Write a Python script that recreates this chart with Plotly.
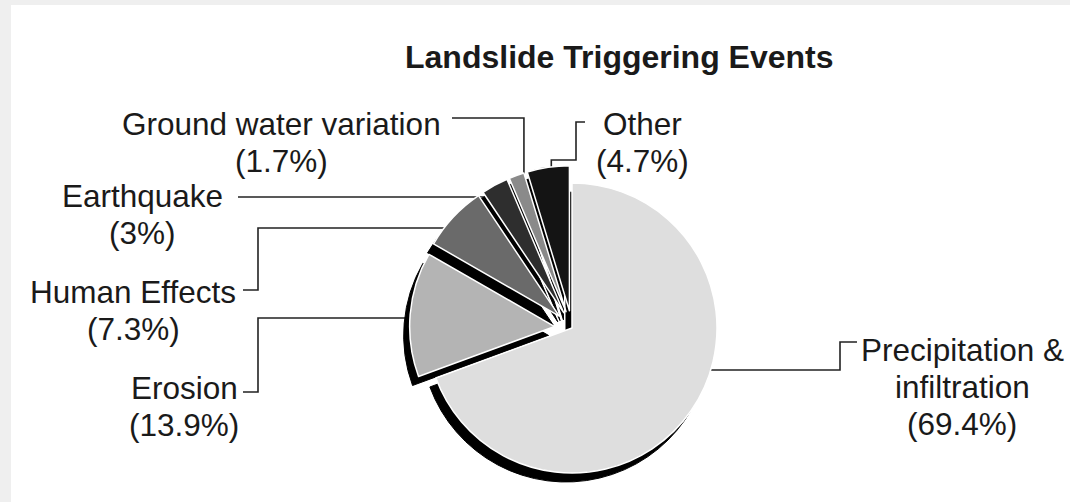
import numpy as np
import plotly.graph_objects as go

# ---------------- data ----------------
categories = ["Precipitation & infiltration", "Erosion", "Human Effects",
              "Earthquake", "Ground water variation", "Other"]
values = [69.4, 13.9, 7.3, 3.0, 1.7, 4.7]
label_lines = [["Precipitation &", "infiltration"], ["Erosion"], ["Human Effects"],
               ["Earthquake"], ["Ground water variation"], ["Other"]]
title_text = "Landslide Triggering Events"

# ---------------- style / layout ----------------
W, H = 1070, 502
colors = ["#dedede", "#b4b4b4", "#6a6a6a", "#2e2e2e", "#8a8a8a", "#141414"]
pulls = [0.0, 0.12, 0.12, 0.12, 0.12, 0.12]
CX, CY, R = 572, 328, 145          # pie centre / radius in pixels
MAXP = max(pulls)
D = R * (1 + MAXP)
SH_DX, SH_DY = -6, 9               # shadow offset
FONT = "Liberation Sans, Arial, sans-serif"
TXT = "#1a1a1a"
LABEL_SIZE = 31.5


def px(x):
    return x / W


def py(y):
    return 1 - y / H


def dom(cx, cy):
    clamp = lambda v: min(1.0, max(0.0, v))
    return dict(x=[clamp(px(cx - D)), clamp(px(cx + D))],
                y=[clamp(py(cy + D)), clamp(py(cy - D))])


fig = go.Figure()
# shadow pie
fig.add_trace(go.Pie(labels=categories, values=values, sort=False, direction="clockwise",
                     rotation=0, pull=pulls, textinfo="none", hoverinfo="skip",
                     marker=dict(colors=["#000000"] * len(values), line=dict(color="#000000", width=1)),
                     domain=dom(CX + SH_DX, CY + SH_DY), showlegend=False))
# front pie
fig.add_trace(go.Pie(labels=categories, values=values, sort=False, direction="clockwise",
                     rotation=0, pull=pulls, textinfo="none",
                     marker=dict(colors=colors, line=dict(color="#ffffff", width=1.5)),
                     domain=dom(CX, CY), showlegend=False))

# slice geometry (derived from values) for leader-line targets
vals = np.array(values, dtype=float)
frac = vals / vals.sum()
start = np.concatenate([[0], np.cumsum(frac)[:-1]]) * 360
mid = start + frac * 180


def slice_point(i, rr):
    a = np.deg2rad(mid[i])
    ox = CX + pulls[i] * R * np.sin(a)
    oy = CY - pulls[i] * R * np.cos(a)
    return ox + rr * R * np.sin(a), oy - rr * R * np.cos(a)


shapes = [dict(type="rect", xref="paper", yref="paper", x0=px(11), x1=1.0,
               y0=0.0, y1=py(5), fillcolor="white", line=dict(width=0), layer="below")]


def path(points):
    d = "M " + " L ".join(f"{px(x):.5f},{py(y):.5f}" for x, y in points)
    return dict(type="path", xref="paper", yref="paper", path=d,
                line=dict(color="#222222", width=1.6), layer="below")


# leader lines (end points inside the slices; hidden beneath them)
ox, oy = slice_point(0, 0.8)
shapes.append(path([(ox, 370), (840, 370), (840, 342), (857, 342)]))
ox, oy = slice_point(1, 0.8)
shapes.append(path([(243, 392), (258, 392), (258, 318), (ox, 318)]))
ox, oy = slice_point(2, 0.8)
shapes.append(path([(243, 290), (258, 290), (258, 228), (ox, 228)]))
ox, oy = slice_point(3, 0.85)
shapes.append(path([(238, 197), (ox, 197)]))
ox, oy = slice_point(4, 0.85)
shapes.append(path([(452, 118), (ox, 118), (ox, oy)]))
ox, oy = slice_point(5, 0.85)
shapes.append(path([(585, 122), (576, 122), (576, 160), (ox, 160), (ox, oy)]))

# label positions (centre x, y of first line)
label_pos = [(962, 350), (184, 388), (133, 292), (142, 196), (281, 124), (642, 124)]
LINE = 37
annotations = []
for i, (lx, ly) in enumerate(label_pos):
    lines = label_lines[i] + [f"({values[i]:g}%)"]
    for k, t in enumerate(lines):
        annotations.append(dict(x=px(lx), y=py(ly + k * LINE), xref="paper", yref="paper",
                                text=t, showarrow=False, xanchor="center", yanchor="middle",
                                font=dict(family=FONT, size=LABEL_SIZE, color=TXT)))
annotations.append(dict(x=px(619), y=py(57), xref="paper", yref="paper",
                        text=f"<b>{title_text}</b>", showarrow=False,
                        xanchor="center", yanchor="middle",
                        font=dict(family=FONT, size=32, color=TXT)))

fig.update_layout(width=W, height=H, margin=dict(l=0, r=0, t=0, b=0),
                  paper_bgcolor="#efefef", plot_bgcolor="white",
                  shapes=shapes, annotations=annotations, showlegend=False)

fig.write_html("out.html", config={"displayModeBar": False},
               post_script="document.body.style.margin='0';document.body.style.overflow='hidden';")
